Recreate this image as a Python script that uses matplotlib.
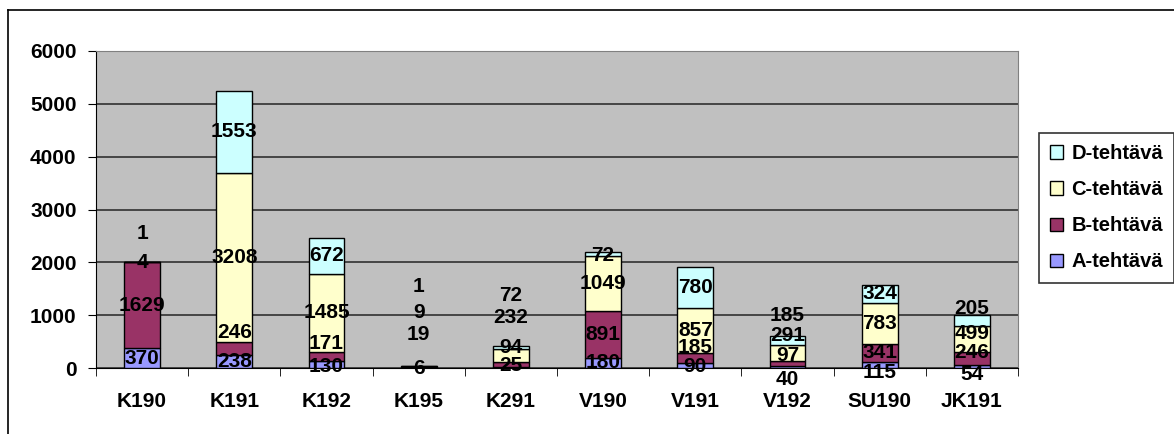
import numpy as np
import matplotlib
matplotlib.use("Agg")
import matplotlib.pyplot as plt
from matplotlib.lines import Line2D

plt.rcParams['font.family'] = ['Liberation Sans', 'DejaVu Sans']
plt.rcParams['font.weight'] = 'bold'

categories = ["K190", "K191", "K192", "K195", "K291", "V190", "V191", "V192", "SU190", "JK191"]
a_values = [370, 238, 130, 6, 25, 180, 90, 40, 115, 54]
b_values = [1629, 246, 171, 19, 94, 891, 185, 97, 341, 246]
c_values = [4, 3208, 1485, 9, 232, 1049, 857, 291, 783, 499]
d_values = [1, 1553, 672, 1, 72, 72, 780, 185, 324, 205]
series_names = ["A-tehtävä", "B-tehtävä", "C-tehtävä", "D-tehtävä"]

colors = ["#9999FF", "#993366", "#FFFFCC", "#CCFFFF"]

# labels that Excel pushed away from the segment centre (category, series) -> y
label_moved = {
    (0, 2): 2000, (0, 3): 2540,
    (1, 1): 680,
    (2, 0): 30, (2, 1): 470,
    (3, 0): 0, (3, 1): 640, (3, 2): 1050, (3, 3): 1540,
    (4, 0): 40, (4, 1): 380, (4, 2): 960, (4, 3): 1370,
    (5, 0): 110, (5, 3): 2130,
    (6, 0): 20, (6, 1): 380,
    (7, 0): -215, (7, 1): 245, (7, 2): 620, (7, 3): 1000,
    (8, 0): -90,
    (9, 0): -130, (9, 1): 300, (9, 2): 660, (9, 3): 1130,
}

fig = plt.figure(figsize=(11.74, 4.34), dpi=100)
ax = fig.add_axes([96 / 1174, 1 - 368 / 434, 922 / 1174, 317 / 434])
ax.set_facecolor("#C0C0C0")

x = np.arange(len(categories))
all_values = [a_values, b_values, c_values, d_values]
bottom = np.zeros(len(categories))
handles = []
for s, vals in enumerate(all_values):
    vals = np.array(vals, dtype=float)
    bars = ax.bar(x, vals, 0.39, bottom=bottom, color=colors[s], edgecolor="black",
                  linewidth=1, zorder=3, label=series_names[s])
    handles.append(bars)
    for i, v in enumerate(vals):
        y = label_moved.get((i, s), bottom[i] + v / 2)
        ax.text(x[i], y, f"{int(v)}", ha="center", va="center", fontsize=15,
                fontweight="bold", zorder=5, clip_on=False)
    bottom += vals

ax.set_xlim(-0.5, len(categories) - 0.5)
ax.set_ylim(0, 6000)
ax.set_yticks(range(0, 6001, 1000))
ax.yaxis.grid(True, color="#303030", linewidth=1.2, zorder=1)
ax.set_xticks(x)
ax.set_xticklabels(categories, fontsize=15, fontweight="bold")
ax.set_xticks(np.arange(-0.5, len(categories)), minor=True)
ax.tick_params(axis="x", which="major", length=0, pad=17)
ax.tick_params(axis="x", which="minor", length=6, direction="out", color="black")
ax.tick_params(axis="y", length=6, direction="out", labelsize=15, pad=8)
for lab in ax.get_yticklabels():
    lab.set_fontweight("bold")

ax.spines["left"].set_color("black")
ax.spines["bottom"].set_color("black")
ax.spines["top"].set_color("#808080")
ax.spines["right"].set_color("#808080")

leg = fig.legend(handles=handles[::-1], labels=series_names[::-1],
                 loc="upper left", bbox_to_anchor=(1039 / 1174, 1 - 133 / 434),
                 frameon=True, fancybox=False, edgecolor="black", fontsize=14.5,
                 handlelength=0.65, handleheight=0.65, handletextpad=0.4,
                 labelspacing=0.85, borderpad=0.55, borderaxespad=0)
leg.get_frame().set_linewidth(1.2)
for t in leg.get_texts():
    t.set_fontweight("bold")

# chart frame
fig.add_artist(Line2D([8 / 1174, 8 / 1174], [0, 1 - 10 / 434], color="black", linewidth=1.2))
fig.add_artist(Line2D([8 / 1174, 1], [1 - 10 / 434, 1 - 10 / 434], color="black", linewidth=1.2))

fig.savefig("out.png", dpi=100)
